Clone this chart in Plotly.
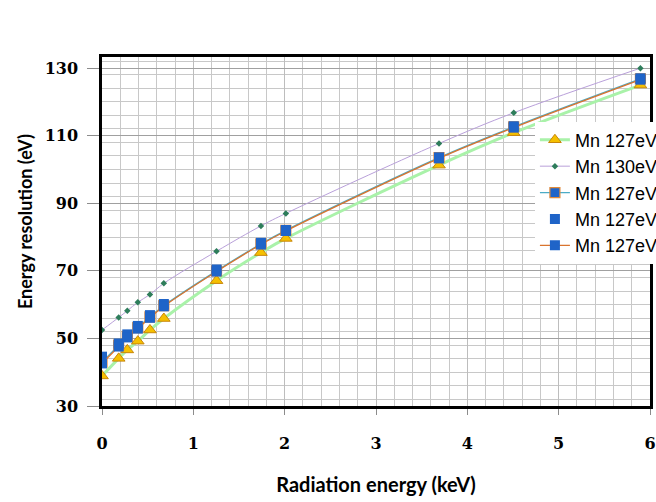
import plotly.graph_objects as go

energy_kev = [0, 0.183, 0.277, 0.392, 0.525, 0.677, 1.254, 1.740, 2.013, 3.690, 4.508, 5.895]

res_127_tri = [38.9, 44.1, 46.6, 49.2, 52.5, 55.9, 67.1, 75.4, 79.6, 101.3, 110.9, 125.0]
res_130_dia = [52.5, 56.2, 58.2, 60.7, 63.0, 66.3, 75.8, 83.3, 87.0, 107.7, 116.8, 130.0]
res_127_sq_a = [43.0, 48.0, 50.6, 53.2, 56.4, 59.7, 70.0, 78.0, 82.0, 103.5, 112.6, 126.8]
res_127_sq_b = [44.6, 48.5, 51.2, 53.7, 56.9, 60.2, 70.4, 78.3, 82.1, 103.6, 112.8, 127.0]
res_127_sq_c = [42.6, 47.6, 50.3, 52.9, 56.1, 59.5, 69.8, 77.8, 81.8, 103.3, 112.4, 126.6]

series_names = ["Mn 127eV", "Mn 130eV", "Mn 127eV", "Mn 127eV", "Mn 127eV"]

x_ticks = [0, 1, 2, 3, 4, 5, 6]
y_ticks = [30, 50, 70, 90, 110, 130]

x_title = "Radiation energy (keV)"
y_title = "Energy resolution (eV)"

fig = go.Figure()

fig.add_trace(go.Scatter(
    x=energy_kev, y=res_127_tri, name=series_names[0], mode="lines+markers",
    line=dict(color="#A9F2A9", width=3, shape="spline"),
    marker=dict(symbol="triangle-up", size=11, color="#F5C000",
                line=dict(color="#C8860A", width=1))))

fig.add_trace(go.Scatter(
    x=energy_kev, y=res_130_dia, name=series_names[1], mode="lines+markers",
    line=dict(color="#B9A0DA", width=1, shape="spline"),
    marker=dict(symbol="diamond", size=5, color="#2E7D5B")))

fig.add_trace(go.Scatter(
    x=energy_kev, y=res_127_sq_a, name=series_names[2], mode="lines+markers",
    line=dict(color="#4BACC6", width=1.3, shape="spline"),
    marker=dict(symbol="square", size=10, color="#1F64C8",
                line=dict(color="#E08A3A", width=1.2))))

fig.add_trace(go.Scatter(
    x=energy_kev, y=res_127_sq_b, name=series_names[3], mode="markers",
    marker=dict(symbol="square", size=10, color="#1F64C8")))

fig.add_trace(go.Scatter(
    x=energy_kev, y=res_127_sq_c, name=series_names[4], mode="lines+markers",
    line=dict(color="#D9742E", width=1.3, shape="spline"),
    marker=dict(symbol="square", size=10, color="#1F64C8")))

fig.update_layout(
    width=656, height=502,
    margin=dict(l=102, r=6, t=57, b=96, autoexpand=False),
    paper_bgcolor="white", plot_bgcolor="white",
    showlegend=True,
    legend=dict(x=0.79, y=0.815, xanchor="left", yanchor="top",
                bgcolor="rgba(255,255,255,1)", borderwidth=0,
                font=dict(family="Liberation Sans", size=18, color="black"),
                itemwidth=30, tracegroupgap=0),
    xaxis=dict(
        range=[0, 6.0], tickvals=x_ticks, ticktext=[str(v) for v in x_ticks],
        tickfont=dict(family="DejaVu Serif", size=16, color="black", weight="bold"),
        ticks="outside", ticklen=6, tickcolor="#8C8C8C", tickwidth=1,
        ticklabelstandoff=15, automargin=False,
        showgrid=True, gridcolor="#BDBDBD", gridwidth=1,
        minor=dict(dtick=0.2, showgrid=True, gridcolor="#C8C8C8", gridwidth=1),
        showline=True, linecolor="black", linewidth=2.5, mirror=True,
        zeroline=False,
        title=dict(text=x_title, standoff=27,
                   font=dict(family="Lato", size=20, color="black", weight="bold")),
    ),
    yaxis=dict(
        range=[30, 133.3], tickvals=y_ticks, ticktext=[str(v) for v in y_ticks],
        tickfont=dict(family="DejaVu Serif", size=16, color="black", weight="bold"),
        ticks="outside", ticklen=12, tickcolor="#8C8C8C", tickwidth=1,
        ticklabelstandoff=6, automargin=False,
        showgrid=True, gridcolor="#A0A0A0", gridwidth=1.3,
        minor=dict(dtick=4, showgrid=True, gridcolor="#C8C8C8", gridwidth=1),
        showline=True, linecolor="black", linewidth=2.5, mirror=True,
        zeroline=False,
    ),
    annotations=[dict(
        text=y_title, xref="paper", yref="paper", x=0, y=0.527,
        xanchor="center", yanchor="middle", xshift=-77, textangle=-90,
        showarrow=False,
        font=dict(family="Lato", size=18, color="black", weight="bold"))],
)

fig.write_html("out.html", config={"displayModeBar": False},
               post_script="document.body.style.margin='0';document.body.style.overflow='hidden';")
